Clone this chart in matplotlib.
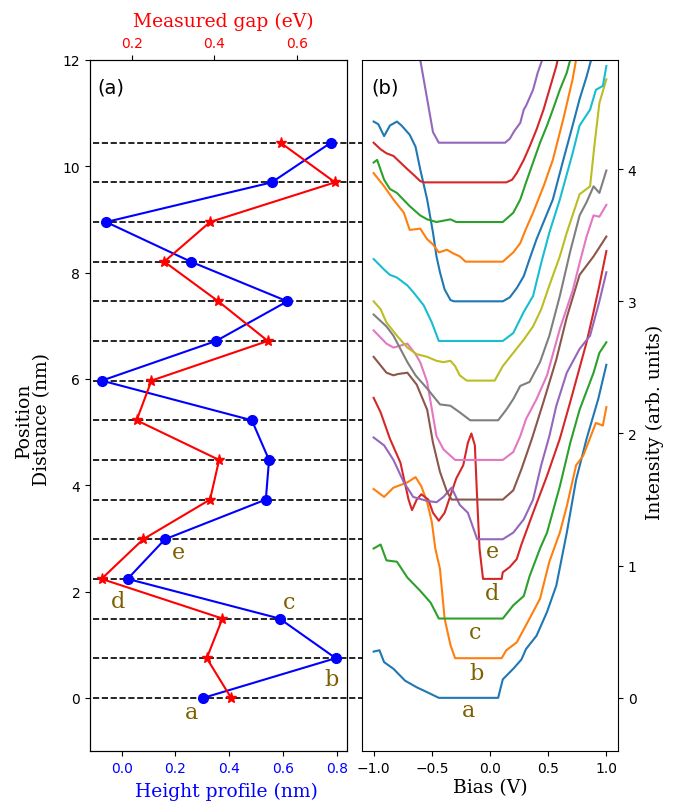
import matplotlib
matplotlib.use("Agg")
import matplotlib.pyplot as plt
import matplotlib.transforms as mtransforms

# ---- panel (a) data ----
positions = [0.0, 0.746, 1.492, 2.238, 2.984, 3.73, 4.476, 5.222, 5.968, 6.714,
             7.46, 8.206, 8.952, 9.698, 10.444]
height_nm = [0.304, 0.796, 0.587, 0.022, 0.161, 0.536, 0.548, 0.484, -0.074, 0.351,
             0.616, 0.257, -0.058, 0.558, 0.778]
gap_ev = [0.441, 0.382, 0.420, 0.127, 0.228, 0.390, 0.412, 0.212, 0.248, 0.530,
          0.410, 0.279, 0.390, 0.693, 0.561]
point_labels = ["a", "b", "c", "d", "e"]
label_x_a = [0.258, 0.781, 0.623, -0.013, 0.211]
label_y_a = [-0.26, 0.36, 1.80, 1.82, 2.75]

# ---- panel (b) data: STS spectra, offset by 0.3 each ----
offsets = [0.0, 0.3, 0.6, 0.9, 1.2, 1.5, 1.8, 2.1, 2.4, 2.7, 3.0, 3.3, 3.6, 3.9, 4.2]
colors = ["C0", "C1", "C2", "C3", "C4", "C5", "C6", "C7", "C8", "C9",
          "C0", "C1", "C2", "C3", "C4"]

bias_00 = [-1.0, -0.95, -0.91, -0.83, -0.73, -0.63, -0.51, -0.44, 0.07, 0.11, 0.20, 0.27,
           0.31, 0.40, 0.49, 0.57, 0.66, 0.74, 0.83, 0.93, 1.0]
int_00 = [0.35, 0.36, 0.27, 0.22, 0.13, 0.08, 0.03, 0.0, 0.0, 0.14, 0.22, 0.29,
          0.37, 0.47, 0.65, 0.85, 1.25, 1.65, 1.96, 2.26, 2.52]

bias_01 = [-1.0, -0.91, -0.83, -0.71, -0.64, -0.59, -0.54, -0.5, -0.47, -0.43, -0.39, -0.34,
           -0.30, 0.10, 0.14, 0.23, 0.34, 0.43, 0.51, 0.60, 0.66, 0.74, 0.80, 0.91, 0.97, 1.0]
int_01 = [1.28, 1.22, 1.29, 1.33, 1.37, 1.30, 1.18, 1.03, 0.83, 0.675, 0.30, 0.10,
          0.0, 0.0, 0.06, 0.12, 0.30, 0.45, 0.73, 0.95, 1.15, 1.46, 1.53, 1.78, 1.76, 1.90]

bias_02 = [-1.0, -0.94, -0.89, -0.80, -0.71, -0.60, -0.51, -0.44, 0.11, 0.20, 0.29, 0.34,
           0.43, 0.49, 0.60, 0.69, 0.77, 0.89, 0.94, 1.0]
int_02 = [0.53, 0.56, 0.44, 0.43, 0.31, 0.21, 0.12, 0.0, 0.0, 0.10, 0.17, 0.32,
          0.53, 0.65, 1.00, 1.33, 1.58, 1.86, 2.01, 2.09]

bias_03 = [-1.0, -0.94, -0.86, -0.77, -0.70, -0.67, -0.63, -0.59, -0.53, -0.49, -0.44, -0.39,
           -0.34, -0.29, -0.23, -0.19, -0.16, -0.13, -0.11, -0.09, -0.06, 0.10, 0.11, 0.17,
           0.23, 0.27, 0.37, 0.49, 0.60, 0.69, 0.83, 0.89, 0.94, 1.0]
int_03 = [1.37, 1.26, 1.06, 0.88, 0.60, 0.52, 0.60, 0.64, 0.60, 0.50, 0.44, 0.50,
          0.63, 0.76, 0.86, 1.03, 1.10, 1.01, 0.60, 0.23, 0.0, 0.0, 0.05, 0.09,
          0.15, 0.26, 0.50, 0.78, 1.06, 1.34, 1.79, 2.02, 2.22, 2.48]

bias_04 = [-1.0, -0.91, -0.83, -0.74, -0.66, -0.54, -0.46, -0.40, -0.33, -0.26, -0.19, -0.11,
           0.11, 0.20, 0.29, 0.37, 0.44, 0.51, 0.57, 0.66, 0.77, 0.86, 0.94, 1.0]
int_04 = [0.77, 0.71, 0.60, 0.43, 0.32, 0.29, 0.28, 0.32, 0.39, 0.26, 0.20, 0.0,
          0.0, 0.05, 0.15, 0.30, 0.56, 0.78, 1.01, 1.26, 1.44, 1.54, 1.80, 2.02]

bias_05 = [-1.0, -0.89, -0.83, -0.79, -0.71, -0.63, -0.54, -0.49, -0.43, -0.37, -0.33, 0.11,
           0.20, 0.27, 0.36, 0.46, 0.57, 0.66, 0.77, 0.89, 1.0]
int_05 = [1.08, 0.96, 0.94, 0.95, 0.96, 0.87, 0.68, 0.43, 0.21, 0.06, 0.0, 0.0,
          0.07, 0.23, 0.46, 0.74, 1.06, 1.38, 1.70, 1.84, 1.99]

bias_06 = [-1.0, -0.89, -0.83, -0.71, -0.64, -0.60, -0.54, -0.46, -0.40, -0.30, 0.11, 0.20,
           0.26, 0.31, 0.40, 0.49, 0.60, 0.71, 0.77, 0.83, 0.89, 0.94, 1.0]
int_06 = [0.98, 0.88, 0.85, 0.88, 0.80, 0.74, 0.59, 0.18, 0.08, 0.0, 0.0, 0.06,
          0.18, 0.31, 0.46, 0.64, 0.99, 1.28, 1.49, 1.69, 1.85, 1.84, 1.93]

bias_07 = [-1.0, -0.89, -0.83, -0.77, -0.71, -0.64, -0.54, -0.43, -0.34, -0.26, -0.17, 0.07,
           0.14, 0.20, 0.26, 0.34, 0.43, 0.51, 0.60, 0.69, 0.77, 0.83, 0.89, 0.94, 1.0]
int_07 = [0.80, 0.71, 0.64, 0.54, 0.44, 0.34, 0.24, 0.12, 0.11, 0.06, 0.0, 0.0,
          0.08, 0.16, 0.26, 0.29, 0.44, 0.64, 0.94, 1.28, 1.55, 1.65, 1.77, 1.72, 1.89]

bias_08 = [-1.0, -0.94, -0.89, -0.80, -0.71, -0.63, -0.54, -0.46, -0.40, -0.34, -0.30, -0.26,
           -0.20, 0.04, 0.11, 0.20, 0.29, 0.37, 0.44, 0.51, 0.60, 0.66, 0.77, 0.86, 0.90,
           0.94, 1.0]
int_08 = [0.60, 0.54, 0.44, 0.34, 0.25, 0.20, 0.18, 0.15, 0.14, 0.15, 0.11, 0.04,
          0.0, 0.0, 0.11, 0.21, 0.31, 0.41, 0.54, 0.72, 0.94, 1.12, 1.41, 1.47, 1.80,
          2.10, 2.28]

bias_09 = [-1.0, -0.91, -0.86, -0.80, -0.71, -0.66, -0.57, -0.50, -0.44, 0.11, 0.20, 0.29,
           0.37, 0.44, 0.51, 0.60, 0.71, 0.77, 0.86, 0.91, 0.97, 1.0]
int_09 = [0.62, 0.54, 0.50, 0.48, 0.42, 0.37, 0.27, 0.14, 0.0, 0.0, 0.06, 0.22,
          0.34, 0.59, 0.82, 1.07, 1.42, 1.63, 1.75, 1.90, 1.93, 2.08]

bias_10 = [-1.0, -0.96, -0.91, -0.86, -0.80, -0.76, -0.69, -0.64, -0.60, -0.54, -0.49, -0.46,
           -0.43, -0.39, -0.34, -0.31, 0.11, 0.17, 0.23, 0.29, 0.34, 0.40, 0.54, 0.63,
           0.71, 0.77, 0.83, 0.87, 0.92]
int_10 = [1.36, 1.34, 1.25, 1.33, 1.36, 1.33, 1.26, 1.17, 1.0, 0.77, 0.52, 0.34,
          0.22, 0.09, 0.01, 0.0, 0.0, 0.03, 0.10, 0.19, 0.32, 0.47, 0.77, 1.07,
          1.33, 1.53, 1.70, 1.83, 2.0]

bias_11 = [-1.0, -0.91, -0.83, -0.74, -0.69, -0.60, -0.54, -0.49, -0.44, -0.37, -0.31, -0.26,
           -0.21, 0.11, 0.20, 0.26, 0.31, 0.37, 0.46, 0.54, 0.63, 0.71, 0.74, 0.78]
int_11 = [0.67, 0.57, 0.47, 0.37, 0.24, 0.25, 0.17, 0.13, 0.07, 0.09, 0.06, 0.04,
          0.0, 0.0, 0.07, 0.14, 0.25, 0.37, 0.57, 0.77, 1.08, 1.38, 1.53, 1.70]

bias_12 = [-1.0, -0.97, -0.91, -0.86, -0.80, -0.69, -0.60, -0.54, -0.46, -0.34, -0.29, 0.11,
           0.20, 0.26, 0.31, 0.37, 0.43, 0.49, 0.54, 0.60, 0.66, 0.69, 0.73]
int_12 = [0.45, 0.47, 0.32, 0.25, 0.22, 0.12, 0.05, 0.02, 0.0, 0.02, 0.0, 0.0,
          0.07, 0.17, 0.30, 0.45, 0.60, 0.73, 0.85, 1.0, 1.13, 1.23, 1.40]

bias_13 = [-1.0, -0.94, -0.89, -0.83, -0.77, -0.71, -0.66, -0.60, -0.57, 0.14, 0.19, 0.23,
           0.29, 0.34, 0.40, 0.46, 0.51, 0.57, 0.61]
int_13 = [0.30, 0.25, 0.22, 0.20, 0.15, 0.10, 0.06, 0.01, 0.0, 0.0, 0.02, 0.07,
          0.17, 0.27, 0.40, 0.55, 0.70, 0.88, 1.05]

bias_14 = [-0.62, -0.60, -0.57, -0.54, -0.51, -0.49, -0.44, 0.13, 0.17, 0.21, 0.26, 0.29,
           0.31, 0.37, 0.41, 0.45, 0.47]
int_14 = [0.75, 0.63, 0.48, 0.33, 0.18, 0.08, 0.0, 0.0, 0.03, 0.09, 0.15, 0.25,
          0.28, 0.40, 0.53, 0.63, 0.75]

spectra = [(bias_00, int_00), (bias_01, int_01), (bias_02, int_02), (bias_03, int_03),
           (bias_04, int_04), (bias_05, int_05), (bias_06, int_06), (bias_07, int_07),
           (bias_08, int_08), (bias_09, int_09), (bias_10, int_10), (bias_11, int_11),
           (bias_12, int_12), (bias_13, int_13), (bias_14, int_14)]

label_x_b = [-0.186, -0.114, -0.129, 0.014, 0.02]
label_y_b = [-0.09, 0.19, 0.50, 0.79, 1.11]

label_color = "#7f6000"
serif = "DejaVu Serif"

# ---- figure ----
W, H = 674, 804
fig = plt.figure(figsize=(W / 100, H / 100), dpi=100)

def px_axes(x0, y0, x1, y1):
    return fig.add_axes([x0 / W, 1 - y1 / H, (x1 - x0) / W, (y1 - y0) / H])

ax_a = px_axes(90, 61, 347, 752)
ax_b = px_axes(362, 61, 618, 752)

# panel (a)
ax_a.plot(height_nm, positions, "o-", color="blue", lw=1.5, ms=7, zorder=3)
ax_a.set_xlim(-0.118, 0.838)
ax_a.set_ylim(-1, 12)
ax_a.set_xticks([0.0, 0.2, 0.4, 0.6, 0.8])
ax_a.tick_params(axis="x", labelcolor="blue")
for lab, lx, ly in zip(point_labels, label_x_a, label_y_a):
    ax_a.text(lx, ly, lab, color=label_color, fontsize=16, family=serif,
              ha="center", va="center", zorder=5)
ax_a.text(0.027, 0.975, "(a)", transform=ax_a.transAxes, fontsize=14, va="top", ha="left")

ax_top = ax_a.twiny()
ax_top.plot(gap_ev, positions, "*-", color="red", lw=1.5, ms=8, zorder=3)
ax_top.set_xlim(0.099, 0.722)
ax_top.set_xticks([0.2, 0.4, 0.6])
ax_top.tick_params(axis="x", labelcolor="red")

# dashed guide lines across both panels
trans = mtransforms.blended_transform_factory(ax_a.transAxes, ax_a.transData)
for p in positions:
    ax_a.plot([0.012, 2.05], [p, p], transform=trans, ls="--", color="black",
              lw=1.2, clip_on=False, zorder=1)

# panel (b): same vertical scale as panel (a), 0.3 intensity per step
scale = offsets[1] / positions[1]
ax_b.set_ylim(-1 * scale, 12 * scale)
for (bv, iv), off, c in zip(spectra, offsets, colors):
    ax_b.plot(bv, [v + off for v in iv], color=c, lw=1.5, zorder=2)
ax_b.set_xlim(-1.1, 1.1)
ax_b.set_xticks([-1.0, -0.5, 0.0, 0.5, 1.0])
ax_b.yaxis.tick_right()
ax_b.set_yticks([0, 1, 2, 3, 4])
for lab, lx, ly in zip(point_labels, label_x_b, label_y_b):
    ax_b.text(lx, ly, lab, color=label_color, fontsize=16, family=serif,
              ha="center", va="center", zorder=5)
ax_b.text(0.038, 0.975, "(b)", transform=ax_b.transAxes, fontsize=14, va="top", ha="left")

# labels
fs = 13.5
fig.text(226 / W, 1 - 792 / H, "Height profile (nm)", color="blue", fontsize=fs,
         family=serif, ha="center", va="center")
fig.text(223.5 / W, 1 - 22 / H, "Measured gap (eV)", color="red", fontsize=fs,
         family=serif, ha="center", va="center")
fig.text(490 / W, 1 - 788 / H, "Bias (V)", fontsize=fs, family=serif,
         ha="center", va="center")
fig.text(655 / W, 1 - 422 / H, "Intensity (arb. units)", fontsize=fs, family=serif,
         ha="center", va="center", rotation=90)
fig.text(33 / W, 1 - 420 / H, "Position\nDistance (nm)", fontsize=fs, family=serif,
         ha="center", va="center", rotation=90, multialignment="center", linespacing=0.95)

fig.savefig("out.png", dpi=100)
